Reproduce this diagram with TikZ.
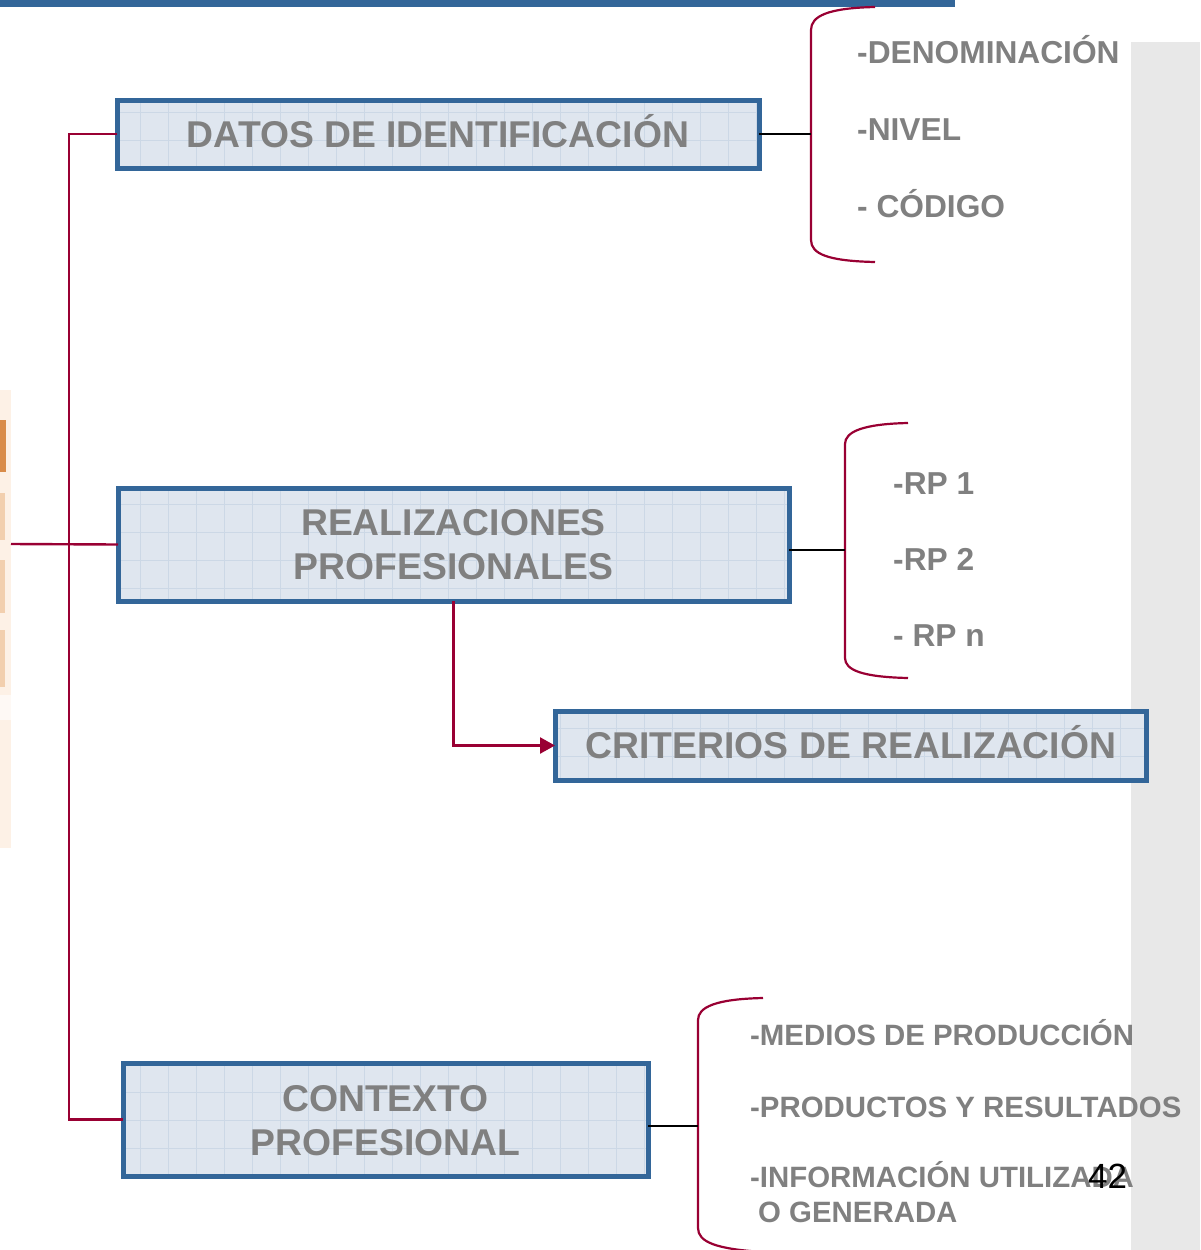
\documentclass[tikz,border=0pt]{standalone}
\usepackage{fontspec}
\setmainfont{Liberation Sans}
\usetikzlibrary{arrows.meta}
\definecolor{crim}{HTML}{990033}
\definecolor{bblue}{HTML}{336699}
\definecolor{boxfill}{HTML}{DFE6EF}
\definecolor{gridc}{HTML}{CCD8E6}
\definecolor{txtgrey}{HTML}{808080}
\definecolor{stripgrey}{HTML}{E8E8E8}
\definecolor{peach}{HTML}{FDF1E6}
\definecolor{orangeA}{HTML}{D98C4A}
\definecolor{orangeB}{HTML}{F2CFAE}
\tikzset{
  boxfillst/.style={fill=boxfill, draw=none, inner sep=0pt, outer sep=0pt},
  boxline/.style={draw=bblue, line width=5pt},
  boxtxt/.style={anchor=base, inner sep=0pt, text=txtgrey, font=\fontsize{37.3}{44}\selectfont\bfseries},
  itemtxt/.style={anchor=base west, inner sep=0pt, text=txtgrey, font=\fontsize{31.7}{37}\selectfont\bfseries},
  itemtxtsm/.style={anchor=base west, inner sep=0pt, text=txtgrey, font=\fontsize{29.4}{36}\selectfont\bfseries},
  redline/.style={draw=crim, line width=2.4pt},
  blkline/.style={draw=black, line width=2pt},
  bracketst/.style={draw=crim, line width=2.2pt},
}
\newcommand{\gridbox}[1]{%
  \begin{scope}
    \clip (#1.south west) rectangle (#1.north east);
    \draw[gridc, line width=0.6pt, step=28pt] (#1.south west) grid (#1.north east);
  \end{scope}
  \draw[boxline] (#1.south west) rectangle (#1.north east);
}
\begin{document}
\begin{tikzpicture}[x=1pt,y=-1pt]
\useasboundingbox (0,0) rectangle (1200,1250);
% background elements
\fill[bblue] (0,0) rectangle (955,7);
\fill[stripgrey] (1131,42) rectangle (1200,1250);
\fill[peach] (0,390) rectangle (11,848);
\fill[orangeA] (0,420) rectangle (6,472);
\fill[orangeB] (0,493) rectangle (5,540);
\fill[orangeB] (0,560) rectangle (5,613);
\fill[orangeB] (0,630) rectangle (5,687);
\fill[white!60!peach] (0,695) rectangle (11,720);

% boxes
\node[boxfillst, minimum width=642pt, minimum height=68pt] (box1) at (438,134) {};
\gridbox{box1}
\node[boxfillst, minimum width=671pt, minimum height=113pt] (box2) at (453.5,544.5) {};
\gridbox{box2}
\node[boxfillst, minimum width=591pt, minimum height=69pt] (box3) at (850.5,745.5) {};
\gridbox{box3}
\node[boxfillst, minimum width=525pt, minimum height=113pt] (box4) at (385.5,1119.5) {};
\gridbox{box4}

% box texts
\node[boxtxt] (t1) at (438,147) {DATOS DE IDENTIFICACIÓN};
\node[boxtxt] (t2a) at (453.5,535) {REALIZACIONES};
\node[boxtxt] (t2b) at (453.5,579) {PROFESIONALES};
\node[boxtxt] (t3) at (851,758) {CRITERIOS DE REALIZACIÓN};
\node[boxtxt] (t4a) at (385.5,1111) {CONTEXTO};
\node[boxtxt] (t4b) at (385.5,1155) {PROFESIONAL};

% left connectors
\coordinate (spine) at (69,134);
\coordinate (strip) at (11,544);
\draw[redline] (box1.west) -- (spine) |- (box4.west);
\draw[redline] (strip) -- (box2.west);
\draw[redline, -{Triangle[length=15pt,width=16pt]}] (box2.south) |- (box3.west);

% brackets
\coordinate (br1) at (811,134);
\coordinate (br2) at (845,550);
\coordinate (br3) at (698,1126);
\draw[bracketst] (875,7) .. controls (828,8) and (811,16) .. (811,30) -- (811,240) .. controls (811,254) and (828,261) .. (875,262);
\draw[bracketst] (908,423) .. controls (862,424) and (845,432) .. (845,444) -- (845,658) .. controls (845,670) and (862,677) .. (908,678);
\draw[bracketst] (763,998) .. controls (716,999) and (698,1007) .. (698,1020) -- (698,1228) .. controls (698,1242) and (716,1249) .. (763,1252);
\draw[blkline] (box1.east |- br1) -- (br1);
\draw[blkline] (box2.east |- br2) -- (br2);
\draw[blkline] (box4.east |- br3) -- (br3);

% bracket items
\node[itemtxt] (i1) at (857,63) {-DENOMINACIÓN};
\node[itemtxt] (i2) at (857,140) {-NIVEL};
\node[itemtxt] (i3) at (857,217) {- CÓDIGO};
\node[itemtxt] (r1) at (893,494) {-RP 1};
\node[itemtxt] (r2) at (893,570) {-RP 2};
\node[itemtxt] (r3) at (893,646) {- RP n};
\node[itemtxtsm] (c1) at (750,1045) {-MEDIOS DE PRODUCCIÓN};
\node[itemtxtsm] (c2) at (750,1117) {-PRODUCTOS Y RESULTADOS};
\node[itemtxtsm] (c3) at (750,1187) {-INFORMACIÓN UTILIZADA};
\node[itemtxtsm] (c4) at (758,1222) {O GENERADA};

% page number (overlaps the text, as in the reference)
\node[anchor=base west, inner sep=0pt, font=\fontsize{35}{40}\selectfont] (pg) at (1088,1188) {42};
\end{tikzpicture}
\end{document}
